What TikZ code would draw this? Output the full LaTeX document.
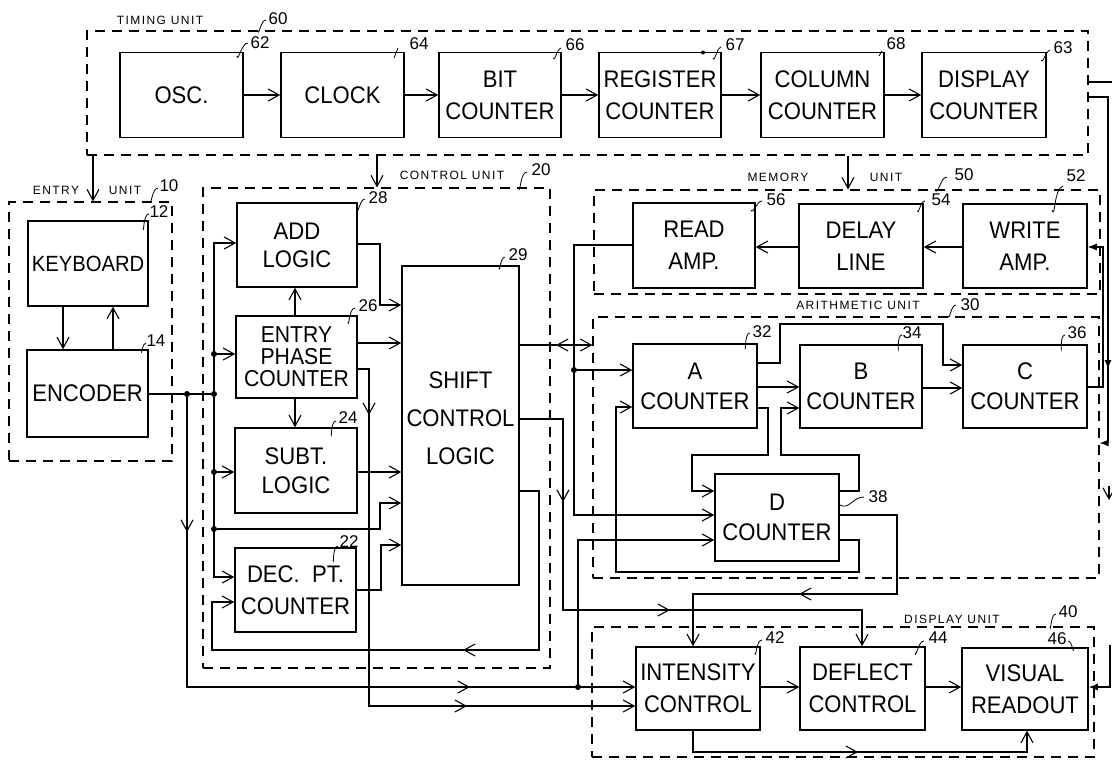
\documentclass[tikz,border=0pt]{standalone}
\usepackage{fontspec}
\usetikzlibrary{arrows.meta}
\newfontfamily\boxfam{Liberation Sans}[FakeStretch=0.92]
\newfontfamily\unitfam{Liberation Sans}[LetterSpace=12]
\newfontfamily\numfam{Liberation Sans}
\newcommand\boxfont{\boxfam\fontsize{24}{32}\selectfont}
\newcommand\unitfont{\unitfam\fontsize{12}{13}\selectfont}
\newcommand\numfont{\numfam\fontsize{17}{18}\selectfont}
\begin{document}
\begin{tikzpicture}[x=1pt,y=-1pt,
  blk/.style={draw, line width=1.5pt, inner sep=0pt, align=center, font=\boxfont},
  unitbox/.style={draw, dash pattern=on 10pt off 7pt, line width=1.1pt, inner sep=0pt},
  wire/.style={line width=1.1pt},
  arr/.style={wire, -{Straight Barb[length=11pt,width=12pt,line width=1.1pt]}},
  farr/.style={wire, -{Latex[length=9pt,width=7pt]}},
  dot/.style={circle, fill, inner sep=0pt, minimum size=6pt},
  num/.style={font=\numfont, inner sep=0pt},
  ulab/.style={font=\unitfont, inner sep=0pt},
  lead/.style={line width=0.8pt}]
\fill[white] (0,0) rectangle (1112,761);
\useasboundingbox (0,0) rectangle (1112,761);

% ---------- unit frames ----------
\node[unitbox, minimum width=1001pt, minimum height=124pt] (tu) at (587.5,93) {};
\node[unitbox, minimum width=163pt, minimum height=259pt] (eu) at (90.5,331.5) {};
\node[unitbox, minimum width=347pt, minimum height=480pt] (cu) at (376.5,428) {};
\node[unitbox, minimum width=506pt, minimum height=104pt] (mu) at (847,242) {};
\node[unitbox, minimum width=506pt, minimum height=261pt] (au) at (846,447.5) {};
\node[unitbox, minimum width=502pt, minimum height=130pt] (du) at (843,692) {};

\node[ulab] (tul) at (160,20) {TIMING UNIT};
\node[ulab] (eul1) at (56,190) {ENTRY};
\node[ulab] (eul2) at (125,190) {UNIT};
\node[ulab] (cul) at (452,175) {CONTROL UNIT};
\node[ulab] (mul1) at (778,177) {MEMORY};
\node[ulab] (mul2) at (886,177) {UNIT};
\node[ulab] (aul) at (858,305) {ARITHMETIC UNIT};
\node[ulab] (dul) at (952,619) {DISPLAY UNIT};

% ---------- blocks ----------
\node[blk, minimum width=123pt, minimum height=85pt] (osc) at (181.5,95) {OSC.};
\node[blk, minimum width=123pt, minimum height=85pt] (clk) at (342.5,95) {CLOCK};
\node[blk, minimum width=122pt, minimum height=85pt] (bit) at (500,95) {BIT\\COUNTER};
\node[blk, minimum width=122pt, minimum height=85pt] (reg) at (660,95) {REGISTER\\COUNTER};
\node[blk, minimum width=123pt, minimum height=85pt] (col) at (822.5,95) {COLUMN\\COUNTER};
\node[blk, minimum width=124pt, minimum height=85pt] (dsp) at (984,95) {DISPLAY\\COUNTER};

\node[blk, minimum width=120pt, minimum height=85pt, font=\boxfam\fontsize{22}{30}\selectfont] (kbd) at (88,263.5) {KEYBOARD};
\node[blk, minimum width=121pt, minimum height=87pt] (enc) at (87.5,393.5) {ENCODER};

\node[blk, minimum width=120pt, minimum height=84pt, font=\boxfam\fontsize{24}{28}\selectfont] (add) at (297,245) {ADD\\LOGIC};
\node[blk, minimum width=121pt, minimum height=82pt, font=\boxfam\fontsize{23}{22}\selectfont] (epc) at (296.5,357) {ENTRY\\PHASE\\COUNTER};
\node[blk, minimum width=122pt, minimum height=85pt, font=\boxfam\fontsize{24}{29}\selectfont] (sub) at (296,470.5) {SUBT.\\LOGIC};
\node[blk, minimum width=121pt, minimum height=84pt] (dec) at (295.5,590) {DEC.~~PT.\\COUNTER};
\node[blk, minimum width=117pt, minimum height=319pt, font=\boxfam\fontsize{24}{38}\selectfont] (scl) at (460.5,425.5) {SHIFT\\CONTROL\\LOGIC\\[-24pt]};

\node[blk, minimum width=122pt, minimum height=85pt] (rd) at (694,245.5) {READ\\AMP.};
\node[blk, minimum width=124pt, minimum height=84pt] (dl) at (861,246) {DELAY\\LINE};
\node[blk, minimum width=124pt, minimum height=84pt] (wr) at (1025,246) {WRITE\\AMP.};

\node[blk, minimum width=124pt, minimum height=84pt, font=\boxfam\fontsize{24}{30}\selectfont] (ca) at (695,386) {A\\COUNTER};
\node[blk, minimum width=122pt, minimum height=83pt, font=\boxfam\fontsize{24}{30}\selectfont] (cb) at (861,386.5) {B\\COUNTER};
\node[blk, minimum width=124pt, minimum height=83pt, font=\boxfam\fontsize{24}{30}\selectfont] (cc) at (1025,386.5) {C\\COUNTER};
\node[blk, minimum width=124pt, minimum height=87pt, font=\boxfam\fontsize{24}{30}\selectfont] (cd) at (777,517.5) {D\\COUNTER};

\node[blk, minimum width=124pt, minimum height=83pt] (ic) at (698,688.5) {INTENSITY\\CONTROL};
\node[blk, minimum width=125pt, minimum height=83pt] (dfc) at (862.5,688.5) {DEFLECT\\CONTROL};
\node[blk, minimum width=126pt, minimum height=82pt] (vr) at (1025,689) {VISUAL\\READOUT};

% ---------- junction dots ----------
\node[dot] (j1) at (187,394) {};
\node[dot] (j2) at (214,394) {};
\node[dot] (j3) at (214,354) {};
\node[dot] (j4) at (214,472) {};
\node[dot] (j5) at (214,529) {};
\node[dot] (j6) at (574,370) {};
\node[dot] (j7) at (578,687) {};
\node[dot, minimum size=4pt] (j8) at (703,52.5) {};

% free ends
\coordinate (e1) at (1112,82);
\coordinate (e2) at (1110,645);
\coordinate (e3) at (1109,486);
\coordinate (e4) at (1109,500);

% ---------- timing unit ----------
\draw[arr] (osc.east) -- (clk.west);
\draw[arr] (clk.east) -- (bit.west);
\draw[arr] (bit.east) -- (reg.west);
\draw[arr] (reg.east) -- (col.west);
\draw[arr] (col.east) -- (dsp.west);
\draw[arr] (tu.south -| 93,0) -- (eu.north -| 93,0);
\draw[arr] (tu.south -| 377,0) -- (cu.north -| 377,0);
\draw[arr] (tu.south -| 848,0) -- (mu.north -| 848,0);
\draw[wire] (tu.east |- 0,82) -- (e1);
\draw[farr] (tu.east |- 0,97) -| (1108,369);
\draw[farr] (1108,366) |- (au.east |- 0,443);
\draw[farr] (cc.east |- 0,387) -- (1103,387) |- (wr.east |- 0,247);
\draw[arr] (e3) -- (e4);

% ---------- entry unit ----------
\draw[arr] (kbd.south -| 63,0) -- (enc.north -| 63,0);
\draw[arr] (enc.north -| 113,0) -- (kbd.south -| 113,0);
\draw[wire] (enc.east |- 0,394) -- (j2);
\draw[arr] (j1) -- (187,532);
\draw[arr] (187,530) |- (470,687);
\draw[arr] (468,687) -- (ic.west |- 0,687);

% ---------- control unit ----------
\draw[arr] (j2) |- (add.west |- 0,243);
\draw[arr] (j2) |- (dec.west |- 0,577);
\draw[arr] (j3) -- (epc.west |- 0,354);
\draw[arr] (j4) -- (sub.west |- 0,472);
\draw[arr] (j5) -- (380,529) |- (scl.west |- 0,503);
\draw[arr] (add.east |- 0,244) -- (380,244) |- (scl.west |- 0,305);
\draw[arr] (epc.north -| 295,0) -- (add.south -| 295,0);
\draw[arr] (epc.south -| 295,0) -- (sub.north -| 295,0);
\draw[arr] (epc.east |- 0,343) -- (scl.west |- 0,343);
\draw[arr] (epc.east |- 0,369) -| (369,415);
\draw[arr] (369,413) |- (467,706);
\draw[arr] (465,706) -- (ic.west |- 0,706);
\draw[arr] (sub.east |- 0,472) -- (scl.west |- 0,472);
\draw[arr] (dec.east |- 0,590) -- (381,590) |- (scl.west |- 0,545);

% ---------- shift control outputs ----------
\draw[wire] (scl.east |- 0,345) -- (557,345);
\draw[arr] (574,345) -- (556,345);
\draw[arr] (574,345) -- (au.west |- 0,345);
\draw[arr] (scl.east |- 0,419) -| (563,502);
\draw[arr] (563,500) |- (670,610);
\draw[arr] (668,610) -| (dfc.north -| 862,0);
\draw[arr] (scl.east |- 0,491) -| (539,650) -- (463,650);
\draw[arr] (465,650) -- (212,650) |- (dec.west |- 0,602);

% ---------- memory ----------
\draw[arr] (wr.west |- 0,247) -- (dl.east |- 0,247);
\draw[arr] (dl.west |- 0,247) -- (rd.east |- 0,247);
\draw[arr] (rd.west |- 0,245) -- (574,245) |- (cd.west |- 0,515);
\draw[arr] (j6) -- (ca.west |- 0,370);

% ---------- arithmetic ----------
\draw[arr] (ca.east |- 0,387) -- (cb.west |- 0,387);
\draw[arr] (cb.east |- 0,388) -- (cc.west |- 0,388);
\draw[arr] (ca.east |- 0,363) -- (780,363) -- (780,324) -- (943,324) |- (cc.west |- 0,365);
\draw[arr] (ca.east |- 0,408) -- (768,408) -- (768,455) -- (692,455) |- (cd.west |- 0,491);
\draw[arr] (cd.east |- 0,491) -- (859,491) -- (859,455) -- (781,455) |- (cb.west |- 0,408);
\draw[arr] (cd.east |- 0,540) -- (859,540) -- (859,572) -- (616,572) |- (ca.west |- 0,407);
\draw[arr] (cd.east |- 0,515) -- (897,515) -- (897,594) -- (799,594);
\draw[arr] (801,594) -| (ic.north -| 693,0);
\draw[arr] (j7) |- (cd.west |- 0,540);

% ---------- display ----------
\draw[arr] (ic.east |- 0,687) -- (dfc.west |- 0,687);
\draw[arr] (dfc.east |- 0,687) -- (vr.west |- 0,687);
\draw[arr] (ic.south -| 693,0) |- (858,752);
\draw[arr] (856,752) -| (vr.south -| 1027,0);
\draw[farr] (e2) |- (vr.east |- 0,687);

% ---------- reference numerals ----------
\draw[lead] (258,31) to[out=-80,in=180] (266,20);   \node[num] (n60) at (278,19) {60};
\draw[lead] (237,56) to[out=-80,in=180] (248,43);   \node[num] (n62) at (260,43) {62};
\draw[lead] (394,58) -- (398,48);                   \node[num] (n64) at (419,44) {64};
\draw[lead] (553,58) to[out=-70,in=200] (561,48);   \node[num] (n66) at (575,45) {66};
\draw[lead] (713,58) to[out=-70,in=200] (721,47);   \node[num] (n67) at (735,45) {67};
\draw[lead] (879,56) -- (882,51);                   \node[num] (n68) at (896,44) {68};
\draw[lead] (1041,60) to[out=-70,in=200] (1050,50); \node[num] (n63) at (1063,48) {63};
\draw[lead] (150,201) to[out=-80,in=180] (158,188); \node[num] (n10) at (169,186) {10};
\draw[lead] (143,228) to[out=-80,in=180] (149,214); \node[num] (n12) at (159,212) {12};
\draw[lead] (141,352) to[out=-80,in=180] (146,343); \node[num] (n14) at (156,341) {14};
\draw[lead] (519,188) to[out=-80,in=180] (527,172); \node[num] (n20) at (541,170) {20};
\draw[lead] (357,210) to[out=-80,in=180] (365,199); \node[num] (n28) at (378,198) {28};
\draw[lead] (348,322) to[out=-80,in=180] (355,308); \node[num] (n26) at (368,306) {26};
\draw[lead] (331,434) to[out=-80,in=180] (336,421); \node[num] (n24) at (348,418) {24};
\draw[lead] (333,560) to[out=-80,in=180] (338,546); \node[num] (n22) at (349,542) {22};
\draw[lead] (499,268) to[out=-80,in=180] (505,257); \node[num] (n29) at (518,255) {29};
\draw[lead] (935,190) to[out=-60,in=180] (947,177); \node[num] (n50) at (964,175) {50};
\draw[lead] (1052,210) to[out=-70,in=200] (1063,186); \node[num] (n52) at (1076,176) {52};
\draw[lead] (751,210) to[out=-70,in=180] (762,201); \node[num] (n56) at (776,200) {56};
\draw[lead] (917,211) to[out=-70,in=180] (925,201); \node[num] (n54) at (941,200) {54};
\draw[lead] (948,316) to[out=-70,in=180] (956,305); \node[num] (n30) at (970,305) {30};
\draw[lead] (745,347) to[out=-80,in=180] (750,333); \node[num] (n32) at (762,332) {32};
\draw[lead] (898,348) to[out=-80,in=180] (902,335); \node[num] (n34) at (912,333) {34};
\draw[lead] (1061,348) to[out=-80,in=180] (1065,335); \node[num] (n36) at (1077,333) {36};
\draw[lead] (840,505) .. controls (850,510) and (852,497) .. (864,497); \node[num] (n38) at (878,497) {38};
\draw[lead] (1050,627) to[out=-80,in=180] (1056,614); \node[num] (n40) at (1068,612) {40};
\draw[lead] (755,653) to[out=-80,in=180] (762,640); \node[num] (n42) at (775,638) {42};
\draw[lead] (915,653) to[out=-80,in=180] (924,641); \node[num] (n44) at (938,638) {44};
\draw[lead] (1068,641) to[out=0,in=-100] (1074,650); \node[num] (n46) at (1057,639) {46};
\end{tikzpicture}
\end{document}
